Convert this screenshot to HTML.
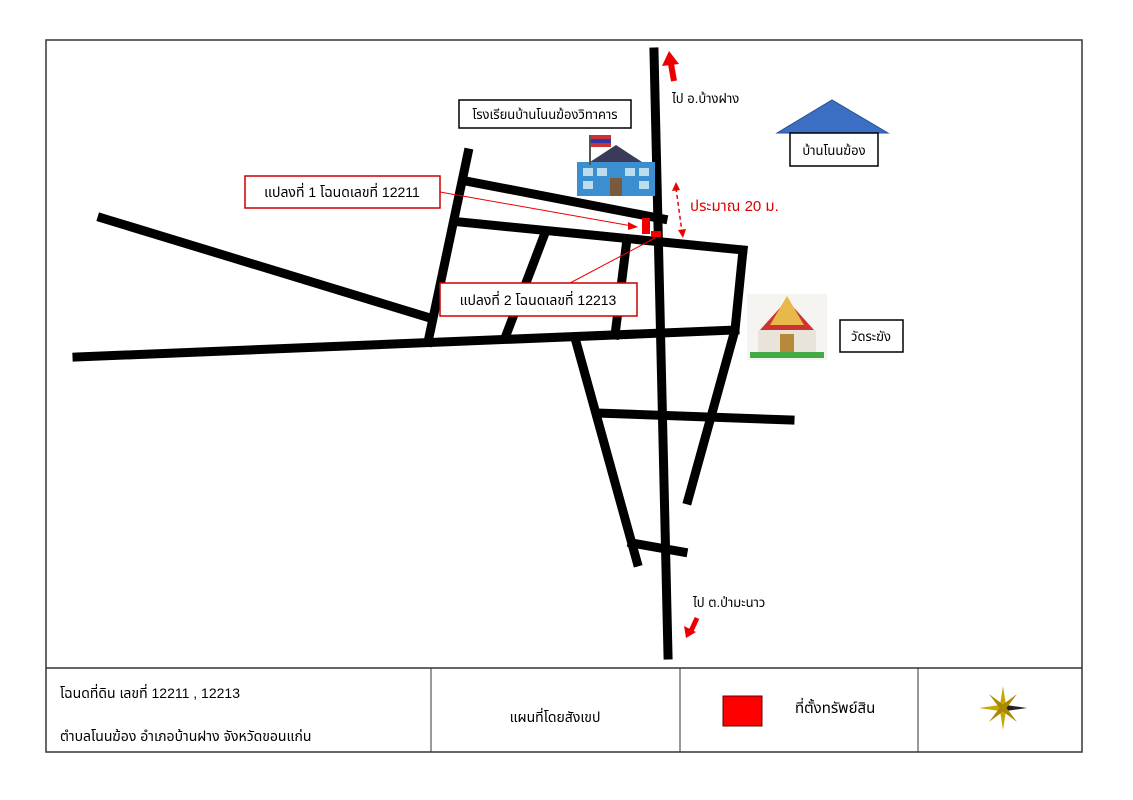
<!DOCTYPE html>
<html><head><meta charset="utf-8"><style>
body{margin:0;background:#fff;width:1133px;height:800px;overflow:hidden}
svg{display:block}
text{font-family:"Liberation Sans","Noto Sans Thai","Tahoma",sans-serif}
</style></head><body>
<svg width="1133" height="800" viewBox="0 0 1133 800">
<rect x="46" y="40" width="1036" height="712" fill="none" stroke="#333" stroke-width="1.5"/>
<line x1="46" y1="668" x2="1082" y2="668" stroke="#333" stroke-width="1.5"/>
<line x1="431" y1="668" x2="431" y2="752" stroke="#333"/>
<line x1="680" y1="668" x2="680" y2="752" stroke="#333"/>
<line x1="918" y1="668" x2="918" y2="752" stroke="#333"/>
<g stroke="#000" stroke-width="9" stroke-linecap="square" fill="none">
<line x1="654" y1="52" x2="668" y2="655"/>
<line x1="77" y1="357" x2="735" y2="330"/>
<line x1="102" y1="218" x2="430" y2="318"/>
<line x1="466" y1="181" x2="663" y2="219"/>
<line x1="460" y1="222" x2="743" y2="250"/>
<line x1="468" y1="153" x2="428" y2="342"/>
<line x1="545" y1="233" x2="505" y2="338"/>
<line x1="627" y1="239" x2="615" y2="335"/>
<polyline points="743,250 735,330 688,500"/>
<line x1="575" y1="338" x2="637" y2="562"/>
<line x1="597" y1="413" x2="790" y2="420"/>
<line x1="632" y1="543" x2="683" y2="552"/>
</g>
<line x1="674" y1="81" x2="671" y2="64" stroke="#e00" stroke-width="6"/>
<polygon points="669,51 662,66 679,64" fill="#e00"/>
<line x1="697" y1="618" x2="691" y2="631" stroke="#e00" stroke-width="5"/>
<polygon points="686,638 684,626 696,632" fill="#e00"/>
<rect x="642" y="218" width="8" height="16" fill="#e00"/>
<rect x="651" y="231" width="10" height="6" fill="#e00"/>
<line x1="440" y1="192" x2="632" y2="226" stroke="#e00" stroke-width="1"/>
<polygon points="638,227 628,222 628,230" fill="#e00"/>
<line x1="570" y1="283" x2="655" y2="238" stroke="#e00" stroke-width="1"/>
<line x1="676" y1="188" x2="682" y2="232" stroke="#e00" stroke-width="1.5" stroke-dasharray="4,3"/>
<polygon points="676,182 672,191 680,190" fill="#e00"/>
<polygon points="683,238 678,230 686,229" fill="#e00"/>
<text x="690" y="211" font-size="15" fill="#d00">ประมาณ 20 ม.</text>
<text x="672" y="103" font-size="13" fill="#000">ไป อ.บ้างฝาง</text>
<text x="693" y="607" font-size="13" fill="#000">ไป ต.ป่ามะนาว</text>
<rect x="459" y="100" width="172" height="28" fill="#fff" stroke="#000" stroke-width="1.5"/>
<text x="545" y="119" font-size="13" text-anchor="middle">โรงเรียนบ้านโนนฆ้องวิทาคาร</text>
<rect x="245" y="176" width="195" height="32" fill="#fff" stroke="#c00" stroke-width="1.5"/>
<text x="342" y="197" font-size="14" text-anchor="middle">แปลงที่ 1 โฉนดเลขที่ 12211</text>
<rect x="440" y="283" width="197" height="33" fill="#fff" stroke="#c00" stroke-width="1.5"/>
<text x="538" y="305" font-size="14" text-anchor="middle">แปลงที่ 2 โฉนดเลขที่ 12213</text>
<polygon points="777,133 832,100 888,133" fill="#3a6fc4" stroke="#2a4f94"/>
<rect x="790" y="133" width="88" height="33" fill="#fff" stroke="#000" stroke-width="1.5"/>
<text x="834" y="155" font-size="13" text-anchor="middle">บ้านโนนฆ้อง</text>
<rect x="840" y="320" width="63" height="32" fill="#fff" stroke="#000" stroke-width="1.5"/>
<text x="871" y="341" font-size="13" text-anchor="middle">วัดระฆัง</text>
<rect x="577" y="162" width="78" height="34" fill="#3b8fd0"/>
<polygon points="590,162 616,145 642,162" fill="#3a3a5a"/>
<rect x="589" y="135" width="2" height="30" fill="#555"/>
<rect x="591" y="135" width="20" height="12" fill="#c33"/><rect x="591" y="139" width="20" height="4" fill="#33a"/>
<g fill="#bde">
<rect x="583" y="168" width="10" height="8"/><rect x="597" y="168" width="10" height="8"/><rect x="625" y="168" width="10" height="8"/><rect x="639" y="168" width="10" height="8"/>
<rect x="583" y="181" width="10" height="8"/><rect x="639" y="181" width="10" height="8"/>
</g>
<rect x="610" y="178" width="12" height="18" fill="#7a5a3a"/>
<rect x="747" y="294" width="80" height="66" fill="#f6f4f0"/>
<polygon points="760,330 787,300 814,330" fill="#c33"/>
<polygon points="770,325 787,296 804,325" fill="#e8b84a"/>
<rect x="758" y="330" width="58" height="22" fill="#e9e4da"/>
<rect x="780" y="334" width="14" height="18" fill="#b58a3a"/>
<rect x="750" y="352" width="74" height="6" fill="#4a4"/>
<text x="60" y="698" font-size="14">โฉนดที่ดิน เลขที่ 12211 , 12213</text>
<text x="60" y="741" font-size="14">ตำบลโนนฆ้อง อำเภอบ้านฝาง จังหวัดขอนแก่น</text>
<text x="555" y="722" font-size="14" text-anchor="middle">แผนที่โดยสังเขป</text>
<rect x="723" y="696" width="39" height="30" fill="#f00" stroke="#600"/>
<text x="795" y="713" font-size="15">ที่ตั้งทรัพย์สิน</text>
<g transform="translate(1003,708)">
<polygon points="0,-22 3,-3 0,0 -3,-3" fill="#c9a700"/><polygon points="0,22 3,3 0,0 -3,3" fill="#c9a700"/>
<polygon points="-24,0 -3,-3 0,0 -3,3" fill="#c9a700"/><polygon points="24,0 3,-3 0,0 3,3" fill="#222"/>
<polygon points="-14,-14 2,-2 -2,2" fill="#a80"/><polygon points="14,14 2,-2 -2,2" fill="#a80"/>
<polygon points="14,-14 2,2 -2,-2" fill="#a80"/><polygon points="-14,14 2,2 -2,-2" fill="#a80"/>
</g>
</svg>
</body></html>
